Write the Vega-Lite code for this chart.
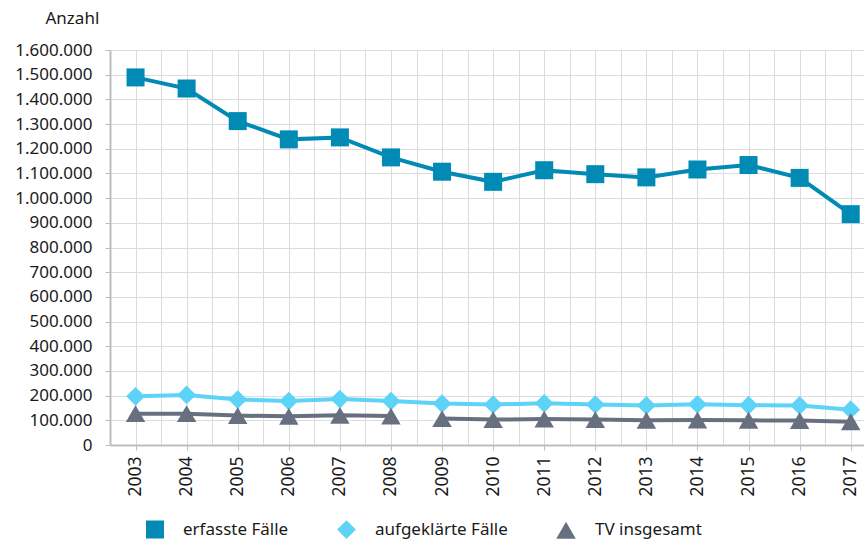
{
  "$schema": "https://vega.github.io/schema/vega-lite/v6.json",
  "width": 754,
  "height": 395,
  "autosize": {"type": "none"},
  "padding": {"left": 110, "top": 50, "right": 0, "bottom": 95},
  "background": "white",
  "config": {
    "view": {"stroke": null},
    "font": "Noto Sans",
    "axis": {"labelFont": "Noto Sans", "titleFont": "Noto Sans", "labelColor": "#1a1a1a", "titleColor": "#1a1a1a"},
    "legend": {"labelFont": "Noto Sans", "labelColor": "#1a1a1a"}
  },
  "data": {
    "values": [
      {"Jahr": 2003, "Serie": "erfasste Fälle", "Anzahl": 1489000, "Abschnitt": "a"},
      {"Jahr": 2004, "Serie": "erfasste Fälle", "Anzahl": 1444000, "Abschnitt": "a"},
      {"Jahr": 2005, "Serie": "erfasste Fälle", "Anzahl": 1312000, "Abschnitt": "a"},
      {"Jahr": 2006, "Serie": "erfasste Fälle", "Anzahl": 1238000, "Abschnitt": "a"},
      {"Jahr": 2007, "Serie": "erfasste Fälle", "Anzahl": 1246000, "Abschnitt": "a"},
      {"Jahr": 2008, "Serie": "erfasste Fälle", "Anzahl": 1165000, "Abschnitt": "a"},
      {"Jahr": 2009, "Serie": "erfasste Fälle", "Anzahl": 1107000, "Abschnitt": "a"},
      {"Jahr": 2010, "Serie": "erfasste Fälle", "Anzahl": 1066000, "Abschnitt": "a"},
      {"Jahr": 2011, "Serie": "erfasste Fälle", "Anzahl": 1113000, "Abschnitt": "a"},
      {"Jahr": 2012, "Serie": "erfasste Fälle", "Anzahl": 1097000, "Abschnitt": "a"},
      {"Jahr": 2013, "Serie": "erfasste Fälle", "Anzahl": 1084000, "Abschnitt": "a"},
      {"Jahr": 2014, "Serie": "erfasste Fälle", "Anzahl": 1116000, "Abschnitt": "a"},
      {"Jahr": 2015, "Serie": "erfasste Fälle", "Anzahl": 1134000, "Abschnitt": "a"},
      {"Jahr": 2016, "Serie": "erfasste Fälle", "Anzahl": 1082000, "Abschnitt": "a"},
      {"Jahr": 2017, "Serie": "erfasste Fälle", "Anzahl": 935000, "Abschnitt": "a"},
      {"Jahr": 2003, "Serie": "aufgeklärte Fälle", "Anzahl": 197000, "Abschnitt": "a"},
      {"Jahr": 2004, "Serie": "aufgeklärte Fälle", "Anzahl": 203000, "Abschnitt": "a"},
      {"Jahr": 2005, "Serie": "aufgeklärte Fälle", "Anzahl": 184000, "Abschnitt": "a"},
      {"Jahr": 2006, "Serie": "aufgeklärte Fälle", "Anzahl": 178000, "Abschnitt": "a"},
      {"Jahr": 2007, "Serie": "aufgeklärte Fälle", "Anzahl": 186000, "Abschnitt": "a"},
      {"Jahr": 2008, "Serie": "aufgeklärte Fälle", "Anzahl": 178000, "Abschnitt": "a"},
      {"Jahr": 2009, "Serie": "aufgeklärte Fälle", "Anzahl": 168000, "Abschnitt": "a"},
      {"Jahr": 2010, "Serie": "aufgeklärte Fälle", "Anzahl": 164000, "Abschnitt": "a"},
      {"Jahr": 2011, "Serie": "aufgeklärte Fälle", "Anzahl": 169000, "Abschnitt": "a"},
      {"Jahr": 2012, "Serie": "aufgeklärte Fälle", "Anzahl": 164000, "Abschnitt": "a"},
      {"Jahr": 2013, "Serie": "aufgeklärte Fälle", "Anzahl": 160000, "Abschnitt": "a"},
      {"Jahr": 2014, "Serie": "aufgeklärte Fälle", "Anzahl": 165000, "Abschnitt": "a"},
      {"Jahr": 2015, "Serie": "aufgeklärte Fälle", "Anzahl": 161000, "Abschnitt": "a"},
      {"Jahr": 2016, "Serie": "aufgeklärte Fälle", "Anzahl": 160000, "Abschnitt": "a"},
      {"Jahr": 2017, "Serie": "aufgeklärte Fälle", "Anzahl": 143000, "Abschnitt": "a"},
      {"Jahr": 2003, "Serie": "TV insgesamt", "Anzahl": 127000, "Abschnitt": "a"},
      {"Jahr": 2004, "Serie": "TV insgesamt", "Anzahl": 127000, "Abschnitt": "a"},
      {"Jahr": 2005, "Serie": "TV insgesamt", "Anzahl": 119000, "Abschnitt": "a"},
      {"Jahr": 2006, "Serie": "TV insgesamt", "Anzahl": 116000, "Abschnitt": "a"},
      {"Jahr": 2007, "Serie": "TV insgesamt", "Anzahl": 120000, "Abschnitt": "a"},
      {"Jahr": 2008, "Serie": "TV insgesamt", "Anzahl": 117000, "Abschnitt": "a"},
      {"Jahr": 2009, "Serie": "TV insgesamt", "Anzahl": 107000, "Abschnitt": "b"},
      {"Jahr": 2010, "Serie": "TV insgesamt", "Anzahl": 103000, "Abschnitt": "b"},
      {"Jahr": 2011, "Serie": "TV insgesamt", "Anzahl": 105000, "Abschnitt": "b"},
      {"Jahr": 2012, "Serie": "TV insgesamt", "Anzahl": 103000, "Abschnitt": "b"},
      {"Jahr": 2013, "Serie": "TV insgesamt", "Anzahl": 100000, "Abschnitt": "b"},
      {"Jahr": 2014, "Serie": "TV insgesamt", "Anzahl": 101000, "Abschnitt": "b"},
      {"Jahr": 2015, "Serie": "TV insgesamt", "Anzahl": 100000, "Abschnitt": "b"},
      {"Jahr": 2016, "Serie": "TV insgesamt", "Anzahl": 99000, "Abschnitt": "b"},
      {"Jahr": 2017, "Serie": "TV insgesamt", "Anzahl": 94000, "Abschnitt": "b"}
    ]
  },
  "encoding": {
    "x": {
      "field": "Jahr",
      "type": "quantitative",
      "scale": {"domain": [2002.5, 2017.26], "nice": false, "zero": false},
      "axis": {
        "title": null,
        "values": [2002.5, 2003, 2003.5, 2004, 2004.5, 2005, 2005.5, 2006, 2006.5, 2007, 2007.5, 2008, 2008.5, 2009, 2009.5, 2010, 2010.5, 2011, 2011.5, 2012, 2012.5, 2013, 2013.5, 2014, 2014.5, 2015, 2015.5, 2016, 2016.5, 2017],
        "labelExpr": "datum.value % 1 === 0 ? '' + datum.value : ''",
        "labelAngle": -90,
        "labelFontSize": 17.5,
        "labelPadding": 6,
        "labelOverlap": false,
        "labelFlush": false,
        "grid": true,
        "gridColor": "#dcdcdc",
        "gridWidth": 1,
        "domainColor": "#bdbdbd",
        "domainWidth": 2,
        "tickColor": "#bdbdbd",
        "tickWidth": 1,
        "tickSize": 5,
        "tickOpacity": {"condition": {"test": "datum.value % 1 !== 0", "value": 0}, "value": 1}
      }
    },
    "y": {
      "field": "Anzahl",
      "type": "quantitative",
      "scale": {"domain": [0, 1600000], "nice": false},
      "axis": {
        "title": "Anzahl",
        "titleAngle": 0,
        "titleAlign": "left",
        "titleBaseline": "alphabetic",
        "titleX": -65,
        "titleY": -27,
        "titleFontSize": 17,
        "titleFontWeight": "normal",
        "values": [0, 100000, 200000, 300000, 400000, 500000, 600000, 700000, 800000, 900000, 1000000, 1100000, 1200000, 1300000, 1400000, 1500000, 1600000],
        "labelExpr": "join(split(format(datum.value, ','), ','), '.')",
        "labelFontSize": 17,
        "labelPadding": 13,
        "labelFlush": false,
        "labelOverlap": false,
        "grid": true,
        "gridColor": "#dcdcdc",
        "gridWidth": 1,
        "domainColor": "#bdbdbd",
        "domainWidth": 2,
        "tickColor": "#bdbdbd",
        "tickSize": 5
      }
    }
  },
  "layer": [
    {
      "mark": {"type": "line", "strokeWidth": 4},
      "encoding": {
        "detail": {"field": "Abschnitt", "type": "nominal"},
        "color": {
          "field": "Serie",
          "type": "nominal",
          "scale": {"domain": ["erfasste Fälle", "aufgeklärte Fälle", "TV insgesamt"], "range": ["#008ab4", "#5cd3f7", "#687080"]},
          "legend": {
            "orient": "none",
            "legendX": 36,
            "legendY": 470,
            "direction": "horizontal",
            "title": null,
            "symbolSize": 400,
            "labelOffset": 19,
            "columnPadding": 48,
            "labelFontSize": 17,
            "encode": {
              "symbols": {
                "update": {
                  "shape": {"value": {"expr": "datum.value === 'erfasste Fälle' ? 'M-1,-0.15H2.8V0.15H-1Z M0.3,-0.6H1.5V0.6H0.3Z' : datum.value === 'aufgeklärte Fälle' ? 'M-1,-0.15H2.8V0.15H-1Z M0.4,0L0.9,-0.45L1.4,0L0.9,0.45Z' : 'M-1,-0.15H2.8V0.15H-1Z M0.25,0.15L0.9,-0.55L1.55,0.15Z'"}},
                  "fill": {"value": {"expr": "scale('color', datum.value)"}},
                  "strokeWidth": {"value": 0}
                }
              }
            }
          }
        }
      }
    },
    {
      "mark": {"type": "point", "filled": true, "opacity": 1},
      "encoding": {
        "fill": {
          "field": "Serie",
          "type": "nominal",
          "scale": {"domain": ["erfasste Fälle", "aufgeklärte Fälle", "TV insgesamt"], "range": ["#008ab4", "#5cd3f7", "#687080"]},
          "legend": null
        },
        "shape": {
          "field": "Serie",
          "type": "nominal",
          "scale": {"domain": ["erfasste Fälle", "aufgeklärte Fälle", "TV insgesamt"], "range": ["square", "diamond", "triangle-up"]},
          "legend": null
        },
        "size": {
          "field": "Serie",
          "type": "nominal",
          "scale": {"domain": ["erfasste Fälle", "aufgeklärte Fälle", "TV insgesamt"], "range": [324, 380, 420]},
          "legend": null
        }
      }
    }
  ]
}
